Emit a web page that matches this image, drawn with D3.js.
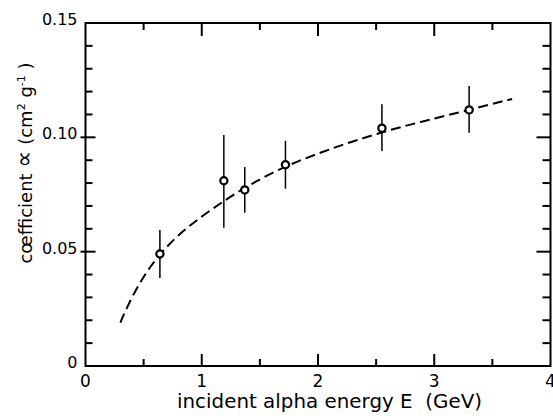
<!DOCTYPE html>
<html>
<head>
<meta charset="utf-8">
<script src="https://cdn.jsdelivr.net/npm/d3@7"></script>
<style>
  body { margin: 0; background: #fff; }
  svg text { font-family: "DejaVu Sans", sans-serif; fill: #000; }
</style>
</head>
<body>
<script>

// measured points (energy in GeV, coefficient in cm2/g)
var energy = [0.64, 1.19, 1.37, 1.72, 2.55, 3.30];
var coeff  = [0.049, 0.081, 0.077, 0.088, 0.104, 0.112];
var errLo  = [0.0385, 0.0605, 0.067, 0.0775, 0.094, 0.102];
var errHi  = [0.0595, 0.101, 0.087, 0.0985, 0.1145, 0.1225];

// dashed fit curve
var fitE = [0.30, 0.35, 0.45, 0.55, 0.65, 0.80, 1.00, 1.20, 1.40, 1.70, 2.00, 2.30, 2.60, 2.90, 3.20, 3.45, 3.67];
var fitA = [0.019, 0.0250, 0.0350, 0.0430, 0.0495, 0.0575, 0.0655, 0.0725, 0.0790, 0.0870, 0.0930, 0.0983, 0.1030, 0.1070, 0.1107, 0.1140, 0.1168];

var xTicks = [0, 1, 2, 3, 4];
var xMinor = [0.5, 1.5, 2.5, 3.5];
var yTicks = [0, 0.05, 0.10, 0.15];
var yTickLabels = ["0", "0.05", "0.10", "0.15"];
var yMinor = [0.01, 0.02, 0.03, 0.04, 0.06, 0.07, 0.08, 0.09, 0.11, 0.12, 0.13, 0.14];

var width = 553, height = 418;
var margin = {left: 85.5, top: 23, right: 2.5, bottom: 52};

var svg = d3.select("body").append("svg")
    .attr("width", width)
    .attr("height", height);

var x = d3.scaleLinear().domain([0, 4]).range([margin.left, width - margin.right]);
var y = d3.scaleLinear().domain([0, 0.15]).range([height - margin.bottom, margin.top]);

// frame
svg.append("rect")
    .attr("x", x(0)).attr("y", y(0.15))
    .attr("width", x(4) - x(0)).attr("height", y(0) - y(0.15))
    .attr("fill", "none").attr("stroke", "#000").attr("stroke-width", 2);

// bottom / top ticks (inward)
var g = svg.append("g").attr("stroke", "#000").attr("stroke-width", 2);
xTicks.slice(1, 4).forEach(function(d) {
  g.append("line").attr("x1", x(d)).attr("x2", x(d)).attr("y1", y(0)).attr("y2", y(0) - 12);
  g.append("line").attr("x1", x(d)).attr("x2", x(d)).attr("y1", y(0.15)).attr("y2", y(0.15) + 13);
});
xMinor.forEach(function(d) {
  g.append("line").attr("x1", x(d)).attr("x2", x(d)).attr("y1", y(0)).attr("y2", y(0) - 7);
  g.append("line").attr("x1", x(d)).attr("x2", x(d)).attr("y1", y(0.15)).attr("y2", y(0.15) + 7);
});
// left / right ticks
[0.05, 0.10].forEach(function(d) {
  g.append("line").attr("x1", x(0) - 5).attr("x2", x(0) + 10).attr("y1", y(d)).attr("y2", y(d));
  g.append("line").attr("x1", x(4)).attr("x2", x(4) - 14).attr("y1", y(d)).attr("y2", y(d));
});
yMinor.forEach(function(d) {
  g.append("line").attr("x1", x(0)).attr("x2", x(0) + 7).attr("y1", y(d)).attr("y2", y(d));
  g.append("line").attr("x1", x(4)).attr("x2", x(4) - 8).attr("y1", y(d)).attr("y2", y(d));
});

// tick labels
svg.selectAll(".xl").data(xTicks).enter().append("text")
    .attr("x", function(d) { return x(d); })
    .attr("y", y(0) + 21)
    .attr("text-anchor", "middle")
    .style("font-size", "17px")
    .text(function(d) { return d; });

svg.selectAll(".yl").data(yTicks).enter().append("text")
    .attr("x", x(0) - 8)
    .attr("y", function(d) { return y(d) + 2; })
    .attr("text-anchor", "end")
    .style("font-size", "16px")
    .text(function(d, i) { return yTickLabels[i]; });

// axis titles
svg.append("text")
    .attr("x", 329.5).attr("y", 408)
    .attr("text-anchor", "middle")
    .attr("textLength", 305)
    .attr("lengthAdjust", "spacingAndGlyphs")
    .style("font-size", "19px")
    .text("incident alpha energy E\u00a0 (GeV)");

var yt = svg.append("text")
    .attr("transform", "translate(32,163) rotate(-90)")
    .attr("text-anchor", "middle")
    .style("font-size", "18px");
yt.append("tspan").text("cœfficient ");
yt.append("tspan").style("font-size", "24px").text("∝");
yt.append("tspan").text(" (cm");
yt.append("tspan").attr("dy", -7).style("font-size", "11px").text("2");
yt.append("tspan").attr("dy", 7).text(" g");
yt.append("tspan").attr("dy", -7).style("font-size", "11px").text("-1");
yt.append("tspan").attr("dy", 7).text(" )");

// fit curve
var fit = fitE.map(function(d, i) { return [d, fitA[i]]; });
svg.append("path")
    .datum(fit)
    .attr("fill", "none")
    .attr("stroke", "#000")
    .attr("stroke-width", 2)
    .attr("stroke-dasharray", "10,5")
    .attr("d", d3.line()
      .x(function(d) { return x(d[0]); })
      .y(function(d) { return y(d[1]); })
      .curve(d3.curveBasis));

// error bars + points
var pts = svg.selectAll(".pt").data(energy).enter().append("g");
pts.append("line")
    .attr("x1", function(d) { return x(d); })
    .attr("x2", function(d) { return x(d); })
    .attr("y1", function(d, i) { return y(errLo[i]); })
    .attr("y2", function(d, i) { return y(errHi[i]); })
    .attr("stroke", "#000").attr("stroke-width", 1.5);
pts.append("circle")
    .attr("cx", function(d) { return x(d); })
    .attr("cy", function(d, i) { return y(coeff[i]); })
    .attr("r", 3.6)
    .attr("fill", "#fff").attr("stroke", "#000").attr("stroke-width", 2.2);

</script>
</body>
</html>
